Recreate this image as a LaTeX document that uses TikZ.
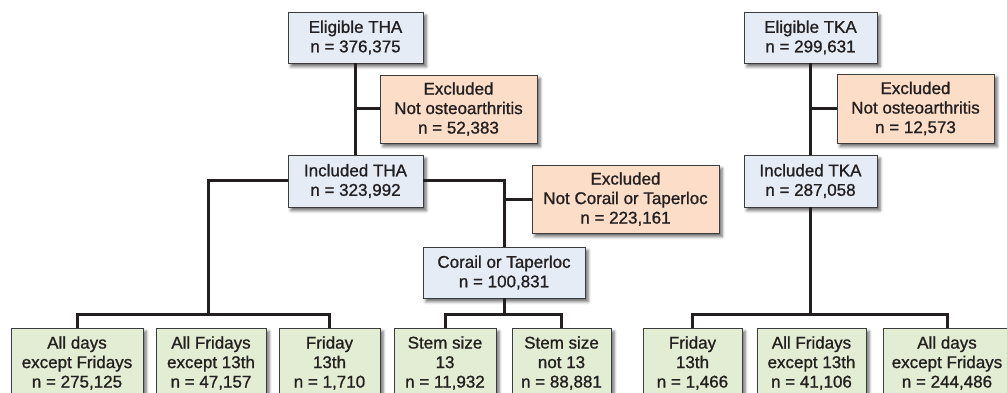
\documentclass[tikz,border=0pt]{standalone}
\usepackage{fontspec}
\setmainfont{Liberation Sans}
\newfontfamily\medfont{Liberation Sans}[FakeBold=1.0]
\usetikzlibrary{shadows.blur}
\definecolor{bluefill}{RGB}{229,236,246}
\definecolor{orangefill}{RGB}{251,221,200}
\definecolor{greenfill}{RGB}{227,237,211}
\definecolor{boxline}{RGB}{60,60,62}
\definecolor{lncol}{RGB}{35,31,32}
\definecolor{txt}{RGB}{35,31,32}
\begin{document}
\begin{tikzpicture}[x=1pt,y=-1pt,
  box/.style={draw=boxline, line width=0.8pt, align=center, inner sep=0pt,
    font=\medfont\fontsize{17}{19.5}\selectfont, text=txt,
    blur shadow={shadow xshift=3pt, shadow yshift=-3.5pt, shadow blur radius=3pt, shadow opacity=60}},
  bluebox/.style={box, fill=bluefill},
  orangebox/.style={box, fill=orangefill},
  greenbox/.style={box, fill=greenfill, minimum height=70pt},
  conn/.style={line width=3pt, draw=lncol}]
\useasboundingbox (0,0) rectangle (1007,393);
\clip (0,0) rectangle (1007,393);

% THA branch
\node[bluebox, minimum width=135pt, minimum height=51pt] (eTHA) at (355.5,37.5) {Eligible THA\\n = 376,375};
\node[orangebox, minimum width=157pt, minimum height=68pt] (xTHA) at (458.5,109) {Excluded\\Not osteoarthritis\\n = 52,383};
\node[bluebox, minimum width=135pt, minimum height=52pt] (iTHA) at (355.5,181) {Included THA\\n = 323,992};
\node[orangebox, minimum width=187pt, minimum height=68pt] (xCor) at (625.5,199) {Excluded\\Not Corail or Taperloc\\n = 223,161};
\node[bluebox, minimum width=162pt, minimum height=51pt] (Cor) at (504,272.5) {Corail or Taperloc\\n = 100,831};

% TKA branch
\node[bluebox, minimum width=133pt, minimum height=51pt] (eTKA) at (810.5,37.5) {Eligible TKA\\n = 299,631};
\node[orangebox, minimum width=157pt, minimum height=69pt] (xTKA) at (915.5,108.5) {Excluded\\Not osteoarthritis\\n = 12,573};
\node[bluebox, minimum width=133pt, minimum height=52pt] (iTKA) at (810.5,181) {Included TKA\\n = 287,058};

% bottom row
\node[greenbox, minimum width=132pt] (b1) at (77,363) {All days\\except Fridays\\n = 275,125};
\node[greenbox, minimum width=110pt] (b2) at (211,363) {All Fridays\\except 13th\\n = 47,157};
\node[greenbox, minimum width=101pt] (b3) at (329.5,363) {Friday\\13th\\n = 1,710};
\node[greenbox, minimum width=102pt] (b4) at (445,363) {Stem size\\13\\n = 11,932};
\node[greenbox, minimum width=99pt] (b5) at (561.5,363) {Stem size\\not 13\\n = 88,881};
\node[greenbox, minimum width=99pt] (b6) at (692.5,363) {Friday\\13th\\n = 1,466};
\node[greenbox, minimum width=109pt] (b7) at (811.5,363) {All Fridays\\except 13th\\n = 41,106};
\node[greenbox, minimum width=128pt] (b8) at (947,363) {All days\\except Fridays\\n = 244,486};

\coordinate (thaBar) at (208,314);
\coordinate (corBar) at (504,314);
\coordinate (tkaBar) at (810.5,314);

% connectors THA
\draw[conn] (eTHA.south) -- (iTHA.north);
\draw[conn] (eTHA.south |- xTHA.west) -- (xTHA.west);
\draw[conn] (iTHA.east) -| (Cor.north);
\draw[conn] (Cor.north |- xCor.west) -- (xCor.west);
\draw[conn] (iTHA.west) -| (thaBar);
\draw[conn] (b1.north) |- (thaBar) -| (b3.north);
\draw[conn] (Cor.south) -- (corBar);
\draw[conn] (b4.north) |- (corBar) -| (b5.north);

% connectors TKA
\draw[conn] (eTKA.south) -- (iTKA.north);
\draw[conn] (eTKA.south |- xTKA.west) -- (xTKA.west);
\draw[conn] (iTKA.south) -- (tkaBar);
\draw[conn] (b6.north) |- (tkaBar) -| (b8.north);
\end{tikzpicture}
\end{document}
